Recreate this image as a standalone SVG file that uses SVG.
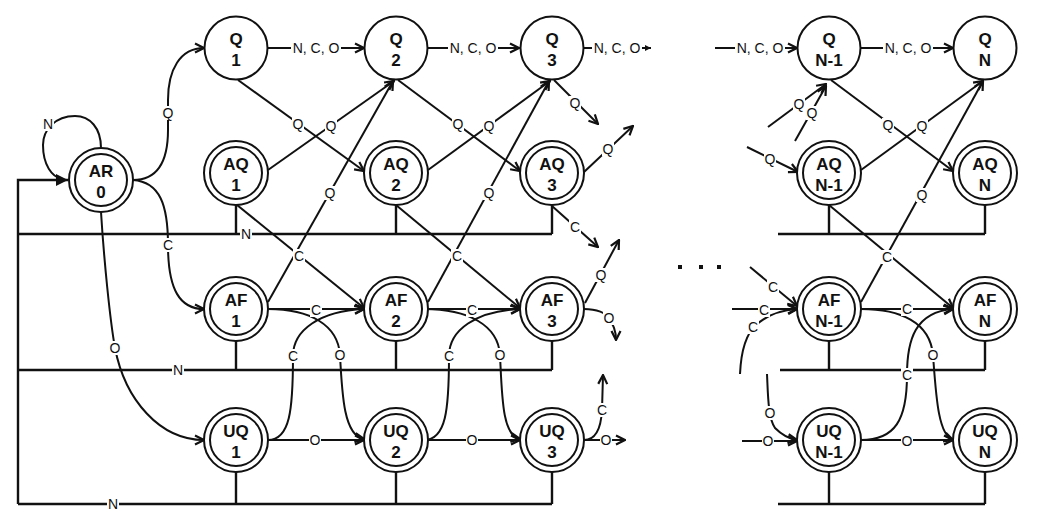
<svg xmlns="http://www.w3.org/2000/svg" width="1040" height="527" viewBox="0 0 1040 527">
<style>
.ln{fill:none;stroke:#111;stroke-width:2}
.bus{fill:none;stroke:#111;stroke-width:2.4}
.ar{marker-end:url(#arr)}
.nc{fill:#fff;stroke:#111;stroke-width:2}
.ni{fill:none;stroke:#111;stroke-width:2}
.nt{font-family:"Liberation Sans",Arial,sans-serif;font-weight:bold;font-size:17px;text-anchor:middle;fill:#111}
.el{font-family:"Liberation Sans",Arial,sans-serif;font-size:14px;text-anchor:middle;fill:#111}
.bg rect{fill:#fff;stroke:none;height:14px}
.s{width:12px}
.w{width:50px}
</style>
<defs>
<marker id="arr" viewBox="0 0 12 12" refX="11" refY="6" markerWidth="12" markerHeight="12" markerUnits="userSpaceOnUse" orient="auto"><path d="M2,1.5 L11,6 L2,10.5" fill="none" stroke="#111" stroke-width="2.2"/></marker>
<marker id="tri" viewBox="0 0 14 14" refX="13" refY="7" markerWidth="14" markerHeight="14" markerUnits="userSpaceOnUse" orient="auto"><path d="M1,1 L13,7 L1,13 Z" fill="#111"/></marker>
<marker id="tri2" viewBox="0 0 8 8" refX="7" refY="4" markerWidth="8" markerHeight="8" markerUnits="userSpaceOnUse" orient="auto"><path d="M1,1 L7,4 L1,7 Z" fill="#111"/></marker>
</defs>
<rect width="1040" height="527" fill="#fff"/>
<g id="connectors">
<path class="ln" d="M101,148 C101,128 90,116 75,116 C55,116 43,130 43,145 C43,165 52,177 62,179"/>
<path class="bus" d="M18,504 L18,180 L68,180" marker-end="url(#tri)"/>
<path class="ln ar" d="M133,180 C158,180 168,160 168,130 L168,100 C168,70 180,48 204,48"/>
<path class="ln ar" d="M133,180 C160,182 168,205 168,245 C168,290 180,309 204,309"/>
<path class="ln ar" d="M101,212 C104,260 110,320 115,348 C125,400 160,440 204,440"/>
<path class="ln ar" d="M268,48 L364,48"/>
<path class="ln ar" d="M428,48 L519,48"/>
<path class="ln" d="M583,48 L651,48" marker-end="url(#tri2)"/>
<path class="ln ar" d="M715,48 L797,48"/>
<path class="ln ar" d="M861,48 L953,48"/>
<path class="ln ar" d="M238,80 L364,171"/>
<path class="ln ar" d="M268,170 L394,81"/>
<path class="ln ar" d="M268,302 L393,81"/>
<path class="ln ar" d="M237,205 L364,308"/>
<path class="ln ar" d="M398,80 L520,171"/>
<path class="ln ar" d="M428,170 L550,81"/>
<path class="ln ar" d="M428,302 L549,81"/>
<path class="ln ar" d="M396,205 L520,308"/>
<path class="ln ar" d="M831,80 L953,171"/>
<path class="ln ar" d="M861,170 L983,81"/>
<path class="ln ar" d="M861,302 L983,81"/>
<path class="ln ar" d="M829,205 L953,308"/>
<path class="ln ar" d="M268,309 L364,309"/>
<path class="ln ar" d="M268,440 L364,440"/>
<path class="ln ar" d="M268,309 C310,309 338,325 340,355 C342,395 344,436 364,439"/>
<path class="ln ar" d="M268,440 C290,440 293,410 293,356 C293,330 320,311 364,309"/>
<path class="ln ar" d="M424,309 L520,309"/>
<path class="ln ar" d="M424,440 L520,440"/>
<path class="ln ar" d="M424,309 C468,309 498,325 500,355 C502,395 502,436 520,439"/>
<path class="ln ar" d="M424,440 C446,440 449,410 449,356 C449,330 476,311 520,309"/>
<path class="ln ar" d="M861,309 L953,309"/>
<path class="ln ar" d="M861,440 L953,440"/>
<path class="ln ar" d="M861,309 C900,309 930,322 933,355 C936,395 938,435 953,440"/>
<path class="ln ar" d="M861,440 C895,440 907,420 907,375 C907,340 915,312 953,309"/>
<path class="ln ar" d="M554,80 L598,124"/>
<path class="ln ar" d="M584,172 L633,126"/>
<path class="ln ar" d="M552,206 L598,247"/>
<path class="ln ar" d="M585,303 L619,240"/>
<path class="ln ar" d="M584,309 C597,309 606,313 609,318 C613,325 616,330 616,340"/>
<path class="ln ar" d="M584,440 C596,440 601,428 602,410 L603,375"/>
<path class="ln ar" d="M584,440 L625,440"/>
<path class="ln ar" d="M768,127 L826,84"/>
<path class="ln ar" d="M795,141 L826,86"/>
<path class="ln ar" d="M747,147 L798,172"/>
<path class="ln ar" d="M750,267 L797,306"/>
<path class="ln ar" d="M732,309 L797,309"/>
<path class="ln ar" d="M740,374 C741,352 746,334 756,325 C766,316 781,310 797,309"/>
<path class="ln ar" d="M767,374 C768,395 768,418 775,428 C782,435 790,439 797,440"/>
<path class="ln ar" d="M742,441 L797,441"/>
<path class="bus" d="M18,234 L552,234 M236,205 L236,234 M396,205 L396,234 M552,205 L552,234"/>
<path class="bus" d="M18,370 L552,370 M236,341 L236,370 M396,341 L396,370 M552,341 L552,370"/>
<path class="bus" d="M18,504 L552,504 M236,472 L236,504 M396,472 L396,504 M552,472 L552,504"/>
<path class="bus" d="M778,234 L985,234 M829,205 L829,234 M985,205 L985,234"/>
<path class="bus" d="M780,370 L985,370 M829,341 L829,370 M985,341 L985,370"/>
<path class="bus" d="M778,504 L985,504 M829,472 L829,504 M985,472 L985,504"/>
<rect x="678" y="265" width="4" height="4" fill="#111"/>
<rect x="699" y="265" width="4" height="4" fill="#111"/>
<rect x="717" y="265" width="4" height="4" fill="#111"/>
<g class="bg">
<rect class="s" x="42" y="117" width="12" height="14"/>
<rect class="s" x="162" y="106" width="12" height="14"/>
<rect class="s" x="162" y="238" width="12" height="14"/>
<rect class="s" x="109" y="341" width="12" height="14"/>
<rect class="w" x="291" y="41" width="50" height="14"/>
<rect class="w" x="448" y="41" width="50" height="14"/>
<rect class="w" x="592" y="41" width="50" height="14"/>
<rect class="w" x="735" y="41" width="50" height="14"/>
<rect class="w" x="883" y="41" width="50" height="14"/>
<rect class="s" x="292" y="117" width="12" height="14"/>
<rect class="s" x="325" y="119" width="12" height="14"/>
<rect class="s" x="324" y="186" width="12" height="14"/>
<rect class="s" x="293" y="249" width="12" height="14"/>
<rect class="s" x="452" y="117" width="12" height="14"/>
<rect class="s" x="483" y="119" width="12" height="14"/>
<rect class="s" x="483" y="186" width="12" height="14"/>
<rect class="s" x="451" y="249" width="12" height="14"/>
<rect class="s" x="882" y="118" width="12" height="14"/>
<rect class="s" x="916" y="119" width="12" height="14"/>
<rect class="s" x="916" y="188" width="12" height="14"/>
<rect class="s" x="881" y="250" width="12" height="14"/>
<rect class="s" x="310" y="303" width="12" height="14"/>
<rect class="s" x="309" y="433" width="12" height="14"/>
<rect class="s" x="334" y="348" width="12" height="14"/>
<rect class="s" x="287" y="349" width="12" height="14"/>
<rect class="s" x="466" y="303" width="12" height="14"/>
<rect class="s" x="466" y="433" width="12" height="14"/>
<rect class="s" x="494" y="348" width="12" height="14"/>
<rect class="s" x="443" y="349" width="12" height="14"/>
<rect class="s" x="901" y="302" width="12" height="14"/>
<rect class="s" x="901" y="434" width="12" height="14"/>
<rect class="s" x="927" y="348" width="12" height="14"/>
<rect class="s" x="901" y="368" width="12" height="14"/>
<rect class="s" x="569" y="96" width="12" height="14"/>
<rect class="s" x="602" y="142" width="12" height="14"/>
<rect class="s" x="569" y="220" width="12" height="14"/>
<rect class="s" x="595" y="268" width="12" height="14"/>
<rect class="s" x="603" y="311" width="12" height="14"/>
<rect class="s" x="596" y="403" width="12" height="14"/>
<rect class="s" x="600" y="433" width="12" height="14"/>
<rect class="s" x="793" y="97" width="12" height="14"/>
<rect class="s" x="806" y="106" width="12" height="14"/>
<rect class="s" x="764" y="152" width="12" height="14"/>
<rect class="s" x="767" y="280" width="12" height="14"/>
<rect class="s" x="758" y="303" width="12" height="14"/>
<rect class="s" x="747" y="320" width="12" height="14"/>
<rect class="s" x="764" y="406" width="12" height="14"/>
<rect class="s" x="762" y="434" width="12" height="14"/>
<rect class="s" x="240" y="227" width="12" height="14"/>
<rect class="s" x="172" y="363" width="12" height="14"/>
<rect class="s" x="107" y="497" width="12" height="14"/>
</g>
<g class="el">
<text x="48" y="129">N</text>
<text x="168" y="118">Q</text>
<text x="168" y="250">C</text>
<text x="115" y="353">O</text>
<text x="316" y="53">N, C, O</text>
<text x="473" y="53">N, C, O</text>
<text x="617" y="53">N, C, O</text>
<text x="760" y="53">N, C, O</text>
<text x="908" y="53">N, C, O</text>
<text x="298" y="129">Q</text>
<text x="331" y="131">Q</text>
<text x="330" y="198">Q</text>
<text x="299" y="261">C</text>
<text x="458" y="129">Q</text>
<text x="489" y="131">Q</text>
<text x="489" y="198">Q</text>
<text x="457" y="261">C</text>
<text x="888" y="130">Q</text>
<text x="922" y="131">Q</text>
<text x="922" y="200">Q</text>
<text x="887" y="262">C</text>
<text x="316" y="315">C</text>
<text x="315" y="445">O</text>
<text x="340" y="360">O</text>
<text x="293" y="361">C</text>
<text x="472" y="315">C</text>
<text x="472" y="445">O</text>
<text x="500" y="360">O</text>
<text x="449" y="361">C</text>
<text x="907" y="314">C</text>
<text x="907" y="446">O</text>
<text x="933" y="360">O</text>
<text x="907" y="380">C</text>
<text x="575" y="108">Q</text>
<text x="608" y="154">Q</text>
<text x="575" y="232">C</text>
<text x="601" y="280">Q</text>
<text x="609" y="323">O</text>
<text x="602" y="415">C</text>
<text x="606" y="445">O</text>
<text x="799" y="109">Q</text>
<text x="812" y="118">Q</text>
<text x="770" y="164">Q</text>
<text x="773" y="292">C</text>
<text x="764" y="315">C</text>
<text x="753" y="332">C</text>
<text x="770" y="418">O</text>
<text x="768" y="446">O</text>
<text x="246" y="239">N</text>
<text x="178" y="375">N</text>
<text x="113" y="509">N</text>
</g>
</g>
<g id="AR0"><circle class="nc" cx="101" cy="180" r="32"/><circle class="ni" cx="101" cy="180" r="26"/><text class="nt" x="101" y="177">AR</text><text class="nt" x="101" y="198">0</text></g>
<g id="Q1"><circle class="nc" cx="236" cy="48" r="31.5"/><text class="nt" x="236" y="45">Q</text><text class="nt" x="236" y="66">1</text></g>
<g id="Q2"><circle class="nc" cx="396" cy="48" r="31.5"/><text class="nt" x="396" y="45">Q</text><text class="nt" x="396" y="66">2</text></g>
<g id="Q3"><circle class="nc" cx="552" cy="48" r="31.5"/><text class="nt" x="552" y="45">Q</text><text class="nt" x="552" y="66">3</text></g>
<g id="QN-1"><circle class="nc" cx="829" cy="48" r="31.5"/><text class="nt" x="829" y="45">Q</text><text class="nt" x="829" y="66">N-1</text></g>
<g id="QN"><circle class="nc" cx="985" cy="48" r="31.5"/><text class="nt" x="985" y="45">Q</text><text class="nt" x="985" y="66">N</text></g>
<g id="AQ1"><circle class="nc" cx="236" cy="173" r="32"/><circle class="ni" cx="236" cy="173" r="26"/><text class="nt" x="236" y="170">AQ</text><text class="nt" x="236" y="191">1</text></g>
<g id="AQ2"><circle class="nc" cx="396" cy="173" r="32"/><circle class="ni" cx="396" cy="173" r="26"/><text class="nt" x="396" y="170">AQ</text><text class="nt" x="396" y="191">2</text></g>
<g id="AQ3"><circle class="nc" cx="552" cy="173" r="32"/><circle class="ni" cx="552" cy="173" r="26"/><text class="nt" x="552" y="170">AQ</text><text class="nt" x="552" y="191">3</text></g>
<g id="AQN-1"><circle class="nc" cx="829" cy="173" r="32"/><circle class="ni" cx="829" cy="173" r="26"/><text class="nt" x="829" y="170">AQ</text><text class="nt" x="829" y="191">N-1</text></g>
<g id="AQN"><circle class="nc" cx="985" cy="173" r="32"/><circle class="ni" cx="985" cy="173" r="26"/><text class="nt" x="985" y="170">AQ</text><text class="nt" x="985" y="191">N</text></g>
<g id="AF1"><circle class="nc" cx="236" cy="309" r="32"/><circle class="ni" cx="236" cy="309" r="26"/><text class="nt" x="236" y="306">AF</text><text class="nt" x="236" y="327">1</text></g>
<g id="AF2"><circle class="nc" cx="396" cy="309" r="32"/><circle class="ni" cx="396" cy="309" r="26"/><text class="nt" x="396" y="306">AF</text><text class="nt" x="396" y="327">2</text></g>
<g id="AF3"><circle class="nc" cx="552" cy="309" r="32"/><circle class="ni" cx="552" cy="309" r="26"/><text class="nt" x="552" y="306">AF</text><text class="nt" x="552" y="327">3</text></g>
<g id="AFN-1"><circle class="nc" cx="829" cy="309" r="32"/><circle class="ni" cx="829" cy="309" r="26"/><text class="nt" x="829" y="306">AF</text><text class="nt" x="829" y="327">N-1</text></g>
<g id="AFN"><circle class="nc" cx="985" cy="309" r="32"/><circle class="ni" cx="985" cy="309" r="26"/><text class="nt" x="985" y="306">AF</text><text class="nt" x="985" y="327">N</text></g>
<g id="UQ1"><circle class="nc" cx="236" cy="440" r="32"/><circle class="ni" cx="236" cy="440" r="26"/><text class="nt" x="236" y="437">UQ</text><text class="nt" x="236" y="458">1</text></g>
<g id="UQ2"><circle class="nc" cx="396" cy="440" r="32"/><circle class="ni" cx="396" cy="440" r="26"/><text class="nt" x="396" y="437">UQ</text><text class="nt" x="396" y="458">2</text></g>
<g id="UQ3"><circle class="nc" cx="552" cy="440" r="32"/><circle class="ni" cx="552" cy="440" r="26"/><text class="nt" x="552" y="437">UQ</text><text class="nt" x="552" y="458">3</text></g>
<g id="UQN-1"><circle class="nc" cx="829" cy="440" r="32"/><circle class="ni" cx="829" cy="440" r="26"/><text class="nt" x="829" y="437">UQ</text><text class="nt" x="829" y="458">N-1</text></g>
<g id="UQN"><circle class="nc" cx="985" cy="440" r="32"/><circle class="ni" cx="985" cy="440" r="26"/><text class="nt" x="985" y="437">UQ</text><text class="nt" x="985" y="458">N</text></g>
</svg>
